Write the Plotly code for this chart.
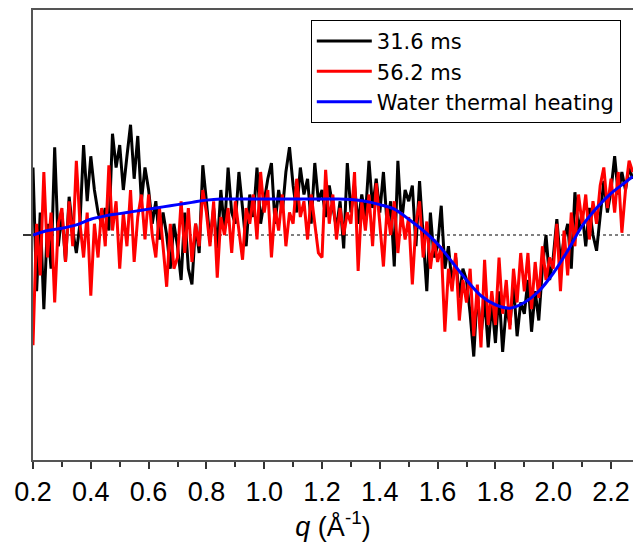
import numpy as np
import plotly.graph_objects as go

# ---- data ----
q_start = 0.2
q_step = 0.0125

black_316 = [
    0.30, -0.25, 0.10, -0.33, 0.05, -0.15, 0.39, -0.05,
    0.10, -0.12, 0.17, 0.02, -0.08, 0.05, 0.40, 0.15,
    0.35, 0.20, 0.10, 0.05, 0.12, 0.02, 0.45, 0.30,
    0.40, 0.20, 0.35, 0.49, 0.25, 0.44, 0.15, 0.30,
    0.20, 0.05, 0.15, -0.02, 0.10, 0.00, -0.15, 0.05,
    -0.05, -0.20, 0.10, -0.15, -0.22, 0.05, -0.08, 0.31,
    0.15, -0.03, 0.12, -0.06, 0.20, 0.02, 0.30, 0.10,
    0.05, 0.28, 0.12, -0.05, 0.18, 0.08, 0.30, 0.05,
    0.15, 0.25, 0.32, 0.05, 0.20, 0.10, 0.28, 0.39,
    0.22, 0.10, 0.30, 0.18, 0.25, 0.05, 0.32, 0.15,
    0.20, 0.08, 0.22, 0.12, 0.03, 0.15, -0.06, 0.32,
    0.10, 0.22, 0.05, 0.18, 0.08, 0.33, 0.12, 0.25,
    0.10, 0.28, 0.05, 0.15, -0.14, 0.33, 0.05, 0.20,
    0.15, 0.22, -0.05, 0.24, 0.00, -0.25, 0.10, -0.10,
    -0.05, 0.13, -0.15, -0.05, -0.22, -0.10, -0.28, -0.15,
    -0.20, -0.35, -0.54, -0.25, -0.45, -0.28, -0.50, -0.30,
    -0.48, -0.25, -0.52, -0.32, -0.40, -0.22, -0.45, -0.30,
    -0.35, -0.20, -0.43, -0.25, -0.38, -0.15, 0.00, -0.20,
    -0.10, 0.07, -0.12, -0.02, 0.05, -0.15, 0.19, 0.02,
    0.10, -0.05, 0.12, 0.00, -0.07, 0.08, 0.24, 0.10,
    0.20, 0.35, 0.18, 0.28, 0.20, 0.30, 0.25,
]

red_562 = [
    -0.49, 0.05, -0.18, 0.28, -0.10, 0.10, -0.30, 0.05,
    0.12, -0.12, 0.15, -0.05, 0.33, 0.05, -0.10, 0.10,
    -0.27, 0.05, -0.10, 0.12, -0.05, 0.31, 0.02, 0.15,
    -0.15, 0.10, -0.05, 0.20, -0.12, 0.08, 0.18, -0.02,
    0.18, 0.00, -0.10, 0.12, -0.05, -0.23, 0.05, -0.15,
    -0.10, 0.15, -0.08, 0.12, -0.12, 0.05, -0.05, 0.20,
    0.10, -0.05, 0.15, -0.19, 0.08, 0.00, 0.12, -0.08,
    0.15, 0.02, -0.11, 0.12, 0.05, 0.18, -0.02, 0.28,
    0.10, 0.20, -0.10, 0.12, 0.02, 0.18, -0.05, 0.10,
    0.05, 0.25, 0.08, 0.15, -0.02, 0.18, 0.05, -0.08,
    -0.10, 0.29, 0.05, 0.18, -0.02, 0.12, 0.00, 0.10,
    0.05, 0.28, -0.16, 0.15, 0.02, 0.18, -0.05, 0.23,
    0.05, -0.14, 0.12, 0.00, 0.15, -0.08, 0.10, -0.02,
    0.08, -0.22, 0.05, 0.15, -0.10, 0.06, -0.15, -0.02,
    -0.12, -0.05, -0.43, -0.15, -0.25, -0.08, -0.38, -0.20,
    -0.30, -0.15, -0.45, -0.22, -0.50, -0.11, -0.40, -0.25,
    -0.40, -0.10, -0.35, -0.20, -0.42, -0.15, -0.30, -0.08,
    -0.25, -0.08, -0.33, -0.12, -0.28, -0.05, -0.20, -0.10,
    -0.15, 0.05, -0.25, 0.02, -0.18, 0.10, -0.05, 0.18,
    0.05, 0.18, -0.02, 0.15, 0.05, 0.22, 0.30, 0.12,
    0.25, 0.10, 0.28, 0.01, 0.20, 0.33, 0.28,
]

q_water = [0.20, 0.25, 0.30, 0.35, 0.40, 0.45, 0.50, 0.55, 0.60, 0.65,
           0.70, 0.75, 0.80, 0.85, 0.90, 0.95, 1.00, 1.05, 1.10, 1.15,
           1.20, 1.25, 1.30, 1.35, 1.40, 1.45, 1.50, 1.55, 1.60, 1.65,
           1.70, 1.75, 1.80, 1.85, 1.90, 1.95, 2.00, 2.05, 2.10, 2.15,
           2.20, 2.25, 2.275]
water_heating = [0.00, 0.02, 0.03, 0.045, 0.07, 0.085, 0.095, 0.105, 0.115, 0.125,
                 0.135, 0.145, 0.155, 0.16, 0.16, 0.16, 0.16, 0.16, 0.16, 0.16,
                 0.16, 0.16, 0.158, 0.15, 0.135, 0.115, 0.07, 0.02, -0.04, -0.12,
                 -0.20, -0.27, -0.31, -0.325, -0.30, -0.25, -0.17, -0.07, 0.04, 0.12,
                 0.185, 0.235, 0.26]

x_ticks = [0.2, 0.4, 0.6, 0.8, 1.0, 1.2, 1.4, 1.6, 1.8, 2.0, 2.2]
x_range = [0.2, 2.276]
y_range = [-1.0, 1.0]

q_black = np.round(q_start + q_step * np.arange(len(black_316)), 4)
q_red = np.round(q_start + q_step * np.arange(len(red_562)), 4)

FONT = "Liberation Sans, Arial, sans-serif"
LEGEND_FONT = "DejaVu Sans, Liberation Sans, sans-serif"

fig = go.Figure()
fig.add_trace(go.Scatter(x=q_black, y=black_316, mode="lines", name="31.6 ms",
                         line=dict(color="black", width=3)))
fig.add_trace(go.Scatter(x=q_red, y=red_562, mode="lines", name="56.2 ms",
                         line=dict(color="#ff0000", width=3)))
fig.add_trace(go.Scatter(x=q_water, y=water_heating, mode="lines",
                         name="Water thermal heating", line_shape="spline",
                         line=dict(color="#0000ff", width=3)))

# dotted zero line
fig.add_shape(type="line", xref="paper", x0=0, x1=1, yref="y", y0=0, y1=0,
              line=dict(color="black", width=1, dash="dot"), layer="below")

fig.update_layout(
    width=633, height=550,
    margin=dict(l=33, r=0, t=10, b=90),
    plot_bgcolor="white", paper_bgcolor="white",
    font=dict(family=FONT, color="black"),
    showlegend=True,
    legend=dict(x=0.463, y=0.978, xanchor="left", yanchor="top",
                bgcolor="white", bordercolor="black", borderwidth=1,
                font=dict(size=21, family=LEGEND_FONT, color="black"),
                itemwidth=55, tracegroupgap=0),
    xaxis=dict(range=x_range, tickvals=x_ticks,
               ticktext=[f"{v:.1f}" for v in x_ticks],
               ticks="outside", ticklen=7, tickwidth=1.5, tickcolor="#333",
               minor=dict(dtick=0.1, ticks="outside", ticklen=5, tickwidth=1.5,
                          tickcolor="#333"),
               showline=True, linecolor="#555", linewidth=2, mirror=True,
               showgrid=False, zeroline=False,
               tickfont=dict(size=27, family=FONT, color="black"),
               title=dict(text="<i>q</i> (Å<sup>-1</sup>)",
                          font=dict(size=27, family=FONT, color="black"),
                          standoff=6)),
    yaxis=dict(range=y_range, tickvals=[0], showticklabels=False,
               ticks="outside", ticklen=8, tickwidth=1.5, tickcolor="#333",
               showline=True, linecolor="#555", linewidth=2,
               showgrid=False, zeroline=False),
)

fig.write_html("out.html")
